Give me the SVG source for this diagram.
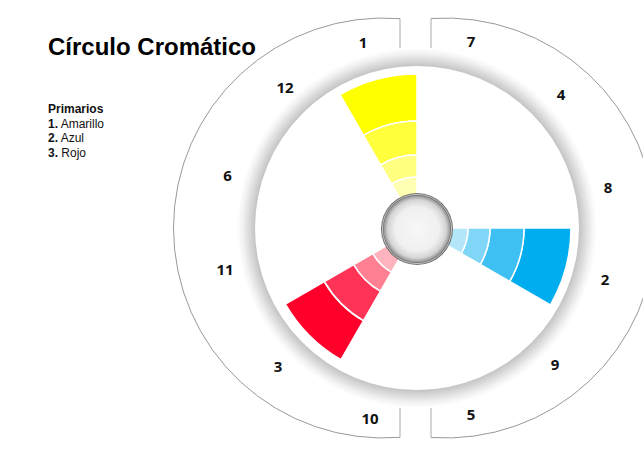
<svg xmlns="http://www.w3.org/2000/svg" width="643" height="450" viewBox="0 0 643 450">
<style>
.num{font-family:"Open Sans","Liberation Sans",sans-serif;font-weight:bold;font-size:15px;fill:#111;text-anchor:middle}
.leg{font-family:"Liberation Sans",Arial,sans-serif;font-size:12px;fill:#111}
.ring{fill:none;stroke:#999;stroke-width:1}
.gap{fill:none;stroke:#aaa;stroke-width:1}
.band{stroke:#fff;stroke-width:1.5;stroke-linejoin:round}
</style>
<defs>
<radialGradient id="shadow" gradientUnits="userSpaceOnUse" cx="417" cy="228" r="180">
<stop offset="0" stop-color="#c4c4c4"/>
<stop offset="0.9" stop-color="#c4c4c4"/>
<stop offset="0.93" stop-color="#d8d8d8"/>
<stop offset="0.97" stop-color="#f2f2f2"/>
<stop offset="1" stop-color="#ffffff"/>
</radialGradient>
<radialGradient id="knob" cx="0.5" cy="0.5" r="0.5">
<stop offset="0" stop-color="#f7f7f7"/>
<stop offset="0.65" stop-color="#f0f0f0"/>
<stop offset="0.87" stop-color="#d4d4d4"/>
<stop offset="1" stop-color="#909090"/>
</radialGradient>
</defs>
<rect width="643" height="450" fill="#fff"/>
<text x="48" y="55" font-family="Liberation Sans, Arial, sans-serif" font-weight="bold" font-size="24" fill="#000">Círculo Cromático</text>
<g id="legend">
<text class="leg" x="48" y="113" font-weight="bold">Primarios</text>
<text class="leg" x="48" y="127.7"><tspan font-weight="bold">1.</tspan> Amarillo</text>
<text class="leg" x="48" y="142.3"><tspan font-weight="bold">2.</tspan> Azul</text>
<text class="leg" x="48" y="156.7"><tspan font-weight="bold">3.</tspan> Rojo</text>
</g>
<g id="outer-ring">
<path class="ring" d="M400,18.65 A210,210 0 1 0 400,437.35"/>
<path class="ring" d="M431,18.5 A210,210 0 1 1 431,437.5"/>
<path class="gap" d="M400,18.65 L400,48 M400,437.35 L400,408 M431,18.5 L431,48 M431,437.5 L431,408"/>
</g>
<g id="disc">
<circle cx="417" cy="228" r="180" fill="url(#shadow)"/>
<circle cx="417" cy="228" r="162" fill="#fff"/>
</g>
<g id="yellow">
<path class="band" fill="#ffff00" d="M340,94.63 A154,154 0 0 1 417,74 L417,121 A107,107 0 0 0 363.5,135.34 Z"/>
<path class="band" fill="#ffff3c" d="M363.5,135.34 A107,107 0 0 1 417,121 L417,155 A73,73 0 0 0 380.5,164.78 Z"/>
<path class="band" fill="#ffff80" d="M380.5,164.78 A73,73 0 0 1 417,155 L417,177 A51,51 0 0 0 391.5,183.83 Z"/>
<path class="band" fill="#ffffb4" d="M391.5,183.83 A51,51 0 0 1 417,177 L417,198 A30,30 0 0 0 402,202.02 Z"/>
</g>
<g id="blue">
<path class="band" fill="#00aeef" d="M571,228 A154,154 0 0 1 550.37,305 L509.66,281.5 A107,107 0 0 0 524,228 Z"/>
<path class="band" fill="#3ec0f2" d="M524,228 A107,107 0 0 1 509.66,281.5 L480.22,264.5 A73,73 0 0 0 490,228 Z"/>
<path class="band" fill="#80d6f7" d="M490,228 A73,73 0 0 1 480.22,264.5 L461.17,253.5 A51,51 0 0 0 468,228 Z"/>
<path class="band" fill="#b4e6fa" d="M468,228 A51,51 0 0 1 461.17,253.5 L442.98,243 A30,30 0 0 0 447,228 Z"/>
</g>
<g id="red">
<path class="band" fill="#ff002b" d="M341,359.64 A152,152 0 0 1 285.37,304 L324.34,281.5 A107,107 0 0 0 363.5,320.66 Z"/>
<path class="band" fill="#ff3355" d="M363.5,320.66 A107,107 0 0 1 324.34,281.5 L353.78,264.5 A73,73 0 0 0 380.5,291.22 Z"/>
<path class="band" fill="#ff8092" d="M380.5,291.22 A73,73 0 0 1 353.78,264.5 L372.83,253.5 A51,51 0 0 0 391.5,272.17 Z"/>
<path class="band" fill="#ffb3be" d="M391.5,272.17 A51,51 0 0 1 372.83,253.5 L391.02,243 A30,30 0 0 0 402,253.98 Z"/>
</g>
<g id="knob-center">
<circle cx="417" cy="229" r="36" fill="#6e6e6e"/>
<circle cx="417" cy="229" r="34.6" fill="none" stroke="#d8d8d8" stroke-width="0.8"/>
<circle cx="417" cy="229" r="33.6" fill="url(#knob)"/>
</g>
<g id="labels">
<text class="num" x="363" y="47.5">1</text>
<text class="num" x="471" y="46.5">7</text>
<text class="num" x="561" y="99.5">4</text>
<text class="num" x="608" y="192.5">8</text>
<text class="num" x="605" y="284.5">2</text>
<text class="num" x="555" y="369.5">9</text>
<text class="num" x="471" y="420">5</text>
<text class="num" x="370" y="423.5">10</text>
<text class="num" x="278" y="371.5">3</text>
<text class="num" x="225" y="274.5">11</text>
<text class="num" x="227.5" y="181">6</text>
<text class="num" x="285" y="92.5">12</text>
</g>
</svg>
